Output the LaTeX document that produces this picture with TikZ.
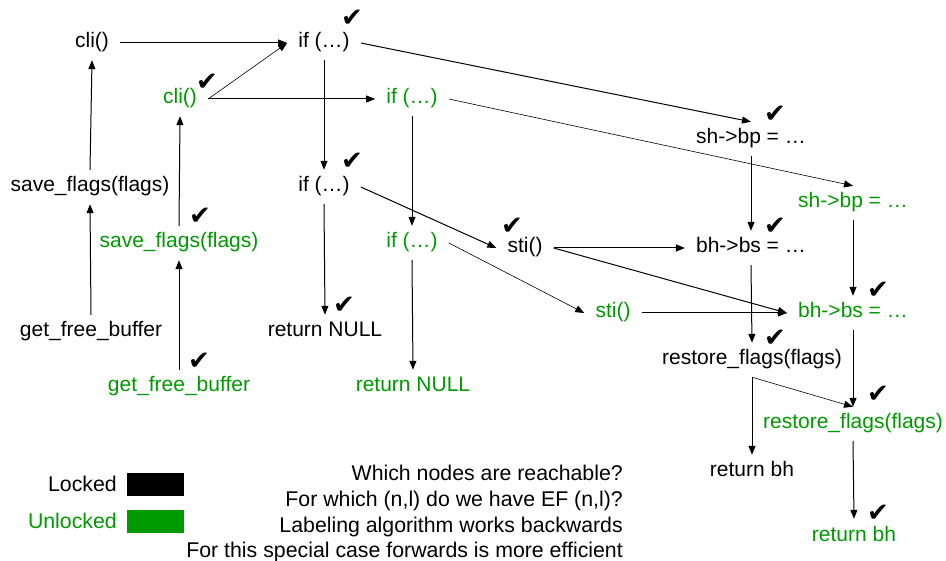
\documentclass[tikz,border=0pt]{standalone}
\usepackage{fontspec}
\setmainfont{Liberation Sans}
\newfontfamily\ckfont{DejaVu Sans}
\usetikzlibrary{arrows.meta}
\definecolor{lockgreen}{RGB}{0,153,0}
\tikzset{
  stmt/.style={font=\fontsize{21}{25}\selectfont, text height=15pt, text depth=5pt,
               inner xsep=11pt, inner ysep=7pt, anchor=center},
  lk/.style={stmt, text=black},
  ul/.style={stmt, text=lockgreen},
  ck/.style={font=\ckfont\fontsize{26}{26}\selectfont, inner sep=0pt, anchor=center},
  flow/.style={line width=1pt, -{Triangle[length=9pt,width=7pt]}},
  thinflow/.style={line width=0.6pt, -{Triangle[length=9pt,width=7pt]}},
  note/.style={font=\fontsize{21.3}{25}\selectfont, inner sep=0pt, anchor=base east},
  legend/.style={minimum width=57pt, minimum height=23pt, inner sep=0pt, anchor=north west}
}
\begin{document}
\begin{tikzpicture}[x=1pt, y=-1pt]
\useasboundingbox (0,0) rectangle (946,561);

% locked (black) copy of the flow graph
\node[lk] (cliL)     at (92,43)   {cli()};
\node[lk] (saveL)    at (90,187)  {save\_flags(flags)};
\node[lk] (getL)     at (91,332)  {get\_free\_buffer};
\node[lk] (ifaL)     at (324,43)  {if (…)};
\node[lk] (ifbL)     at (324,187) {if (…)};
\node[lk] (retnL)    at (325,332) {return NULL};
\node[lk] (stiL)     at (525,248) {sti()};
\node[lk] (shbpL)    at (751,139) {sh->bp = …};
\node[lk] (bhbsL)    at (751,248) {bh->bs = …};
\node[lk] (restL)    at (752,360) {restore\_flags(flags)};
\node[lk] (retbL)    at (752,472) {return bh};

% unlocked (green) copy of the flow graph
\node[ul] (cliU)     at (180,99)  {cli()};
\node[ul] (saveU)    at (179,243) {save\_flags(flags)};
\node[ul] (getU)     at (179,387) {get\_free\_buffer};
\node[ul] (ifaU)     at (412,99)  {if (…)};
\node[ul] (ifbU)     at (412,243) {if (…)};
\node[ul] (retnU)    at (413,387) {return NULL};
\node[ul] (stiU)     at (613,313) {sti()};
\node[ul] (shbpU)    at (853,203) {sh->bp = …};
\node[ul] (bhbsU)    at (853,313) {bh->bs = …};
\node[ul] (restU)    at (853,424) {restore\_flags(flags)};
\node[ul] (retbU)    at (854,536) {return bh};

% reachability marks
\node[ck] (ck1)  at (352,18)  {✔};
\node[ck] (ck2)  at (207,82)  {✔};
\node[ck] (ck3)  at (352,161) {✔};
\node[ck] (ck4)  at (200,216) {✔};
\node[ck] (ck5)  at (775,114) {✔};
\node[ck] (ck6)  at (512,226) {✔};
\node[ck] (ck7)  at (775,226) {✔};
\node[ck] (ck8)  at (344,305) {✔};
\node[ck] (ck9)  at (199,361) {✔};
\node[ck] (ck10) at (878,290) {✔};
\node[ck] (ck11) at (775,338) {✔};
\node[ck] (ck12) at (878,394) {✔};
\node[ck] (ck13) at (878,513) {✔};

% edges
\draw[flow] (getL.north) -- (saveL.south);
\draw[flow] (saveL.north) -- (cliL.south);
\draw[flow] (cliL.east) -- (ifaL.west);
\draw[flow] (getU.north) -- (saveU.south);
\draw[flow] (saveU.north) -- (cliU.south);
\draw[thinflow] (cliU.east) -- (ifaL.west);
\draw[flow] (cliU.east) -- (ifaU.west);
\draw[flow] (ifaL.south) -- (ifbL.north);
\draw[flow] (ifaL.east) -- (shbpL.north);
\draw[thinflow] (ifaU.east) -- (shbpU.north);
\draw[flow] (ifaU.south) -- (ifbU.north);
\draw[flow] (ifbL.south) -- (retnL.north);
\draw[flow] (ifbL.east) -- (stiL.west);
\draw[flow] (ifbU.south) -- (retnU.north);
\draw[thinflow] (ifbU.east) -- (stiU.west);
\draw[flow] (stiL.east) -- (bhbsL.west);
\draw[flow] (stiL.east) -- (bhbsU.west);
\draw[flow] (stiU.east) -- (bhbsU.west);
\draw[flow] (shbpL.south) -- (bhbsL.north);
\draw[flow] (shbpU.south) -- (bhbsU.north);
\draw[flow] (bhbsL.south) -- (restL.north);
\draw[flow] (bhbsU.south) -- (restU.north);
\draw[thinflow] (restL.south) -- (restU.north);
\draw[flow] (restL.south) -- (retbL.north);
\draw[flow] (restU.south) -- (retbU.north);

% legend
\node[note] (lockedtxt) at (117,491) {Locked};
\node[note, text=lockgreen] (unlockedtxt) at (117,528) {Unlocked};
\node[legend, fill=black] (lockedbox) at (127,473) {};
\node[legend, fill=lockgreen] (unlockedbox) at (127,510) {};

% questions
\node[note] (q1) at (623,481) {Which nodes are reachable?};
\node[note] (q2) at (623,506) {For which (n,l) do we have EF (n,l)?};
\node[note] (q3) at (623,532) {Labeling algorithm works backwards};
\node[note] (q4) at (623,557) {For this special case forwards is more efficient};
\end{tikzpicture}
\end{document}
